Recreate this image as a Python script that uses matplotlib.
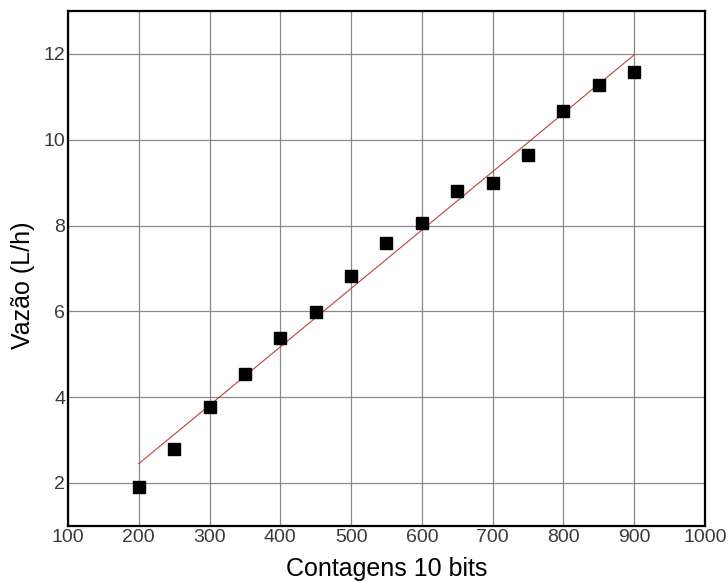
import matplotlib.pyplot as plt

# Calibration: 10-bit ADC counts vs measured flow
contagens = [200, 250, 300, 350, 400, 450, 500, 550, 600, 650, 700, 750, 800, 850, 900]
vazao = [1.91, 2.80, 3.76, 4.54, 5.39, 5.99, 6.83, 7.59, 8.05, 8.81, 9.00, 9.64, 10.66, 11.27, 11.57]

# Linear fit endpoints
ajuste_x = [200, 900]
ajuste_y = [2.45, 11.98]

x_ticks = [100, 200, 300, 400, 500, 600, 700, 800, 900, 1000]
y_ticks = [2, 4, 6, 8, 10, 12]

plt.rcParams['font.family'] = ['Liberation Sans', 'DejaVu Sans']

fig = plt.figure(figsize=(7.28, 5.83), dpi=100)
ax = fig.add_axes([0.0934, 0.098, 0.875, 0.883])

ax.plot(ajuste_x, ajuste_y, color='#c0403c', linewidth=0.8, zorder=2)
ax.plot(contagens, vazao, linestyle='none', marker='s', markersize=8.6,
        color='black', zorder=3)

ax.set_xlim(100, 1000)
ax.set_ylim(1, 13)
ax.set_xticks(x_ticks)
ax.set_yticks(y_ticks)
ax.grid(True, color='#8a8a8a', linewidth=0.9)
ax.set_axisbelow(True)
ax.tick_params(length=0, pad=2, labelsize=14, labelcolor='#3a3a3a')

for s in ax.spines.values():
    s.set_linewidth(1.6)
    s.set_color('black')

ax.set_xlabel('Contagens 10 bits', fontsize=18, labelpad=8)
ax.set_ylabel('Vazão (L/h)', fontsize=18)
ax.yaxis.set_label_coords(-0.052, 0.467)

fig.savefig('out.png', dpi=100)
